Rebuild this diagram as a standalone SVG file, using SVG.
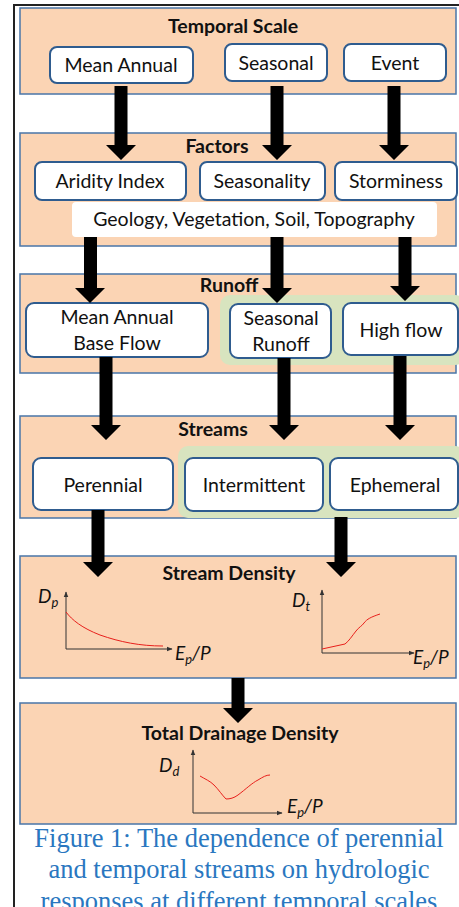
<svg xmlns="http://www.w3.org/2000/svg" width="459" height="907" viewBox="0 0 459 907">
<style>
.panel{fill:#FBD4B4;stroke:#4A76A8;stroke-width:1.5}
.green{fill:#D8E4BF}
.box{fill:#fff;stroke:#2F5C8F;stroke-width:2}
.title{font-family:Lato,"Liberation Sans",sans-serif;font-weight:bold;font-size:19.5px;fill:#111;text-anchor:middle}
.lbl{font-family:Lato,"Liberation Sans",sans-serif;font-size:19.5px;fill:#111;text-anchor:middle}
.ax{font-family:Lato,"Liberation Sans",sans-serif;font-style:italic;font-size:19px;fill:#111}
.sub{font-size:13px}
.axis{fill:none;stroke:#333;stroke-width:1}
.curve{fill:none;stroke:#E8201C;stroke-width:1}
.arrow{fill:#000}
.cap{font-family:"Liberation Serif",serif;font-size:26.5px;fill:#2A77C0;text-anchor:middle}
</style>
<defs>
<marker id="ah" viewBox="0 0 10 10" refX="9" refY="5" markerWidth="6" markerHeight="6" orient="auto"><path d="M0,1 L10,5 L0,9 Z" fill="#333"/></marker>
</defs>
<rect x="0" y="0" width="459" height="907" fill="#fff"/>
<rect x="14" y="5" width="520" height="1000" fill="none" stroke="#222" stroke-width="2"/>

<g id="temporal-scale">
<rect class="panel" x="20" y="8" width="436" height="86"/>
<text class="title" x="233" y="33">Temporal Scale</text>
</g>
<g id="mean-annual"><rect class="box" x="50" y="47" width="143" height="36" rx="7"/><text class="lbl" x="121" y="72">Mean Annual</text></g>
<g id="seasonal"><rect class="box" x="225" y="44" width="102" height="37" rx="7"/><text class="lbl" x="276" y="70">Seasonal</text></g>
<g id="event"><rect class="box" x="344" y="44" width="102" height="37" rx="7"/><text class="lbl" x="395" y="70">Event</text></g>

<g id="factors">
<rect class="panel" x="20" y="133" width="436" height="113"/>
<text class="title" x="217" y="153">Factors</text>
</g>
<g id="aridity-index"><rect class="box" x="35" y="162" width="151" height="38" rx="7"/><text class="lbl" x="110" y="188">Aridity Index</text></g>
<g id="seasonality"><rect class="box" x="200" y="162" width="125" height="38" rx="7"/><text class="lbl" x="262" y="188">Seasonality</text></g>
<g id="storminess"><rect class="box" x="335" y="162" width="122" height="38" rx="7"/><text class="lbl" x="396" y="188">Storminess</text></g>
<g id="geology"><rect x="72" y="202" width="365" height="35" rx="4" fill="#fff"/><text class="lbl" x="254" y="226">Geology, Vegetation, Soil, Topography</text></g>

<g id="runoff">
<rect class="panel" x="20" y="274" width="436" height="99"/>
<rect class="green" x="220" y="295" width="245" height="70" rx="10"/>
<text class="title" x="229" y="292">Runoff</text>
</g>
<g id="mean-annual-base-flow"><rect class="box" x="26" y="303" width="182" height="54" rx="8"/><text class="lbl" x="117" y="324">Mean Annual</text><text class="lbl" x="117" y="350">Base Flow</text></g>
<g id="seasonal-runoff"><rect class="box" x="230" y="304" width="101" height="54" rx="8"/><text class="lbl" x="281" y="325">Seasonal</text><text class="lbl" x="281" y="351">Runoff</text></g>
<g id="high-flow"><rect class="box" x="343" y="303" width="115" height="52" rx="8"/><text class="lbl" x="401" y="337">High flow</text></g>

<g id="streams">
<rect class="panel" x="20" y="416" width="436" height="102"/>
<rect class="green" x="178" y="446" width="287" height="72" rx="10"/>
<text class="title" x="213" y="436">Streams</text>
</g>
<g id="perennial"><rect class="box" x="33" y="458" width="140" height="52" rx="8"/><text class="lbl" x="103" y="492">Perennial</text></g>
<g id="intermittent"><rect class="box" x="185" y="458" width="138" height="53" rx="8"/><text class="lbl" x="254" y="492">Intermittent</text></g>
<g id="ephemeral"><rect class="box" x="330" y="458" width="128" height="52" rx="8"/><text class="lbl" x="395" y="492">Ephemeral</text></g>

<g id="stream-density">
<rect class="panel" x="20" y="556" width="436" height="122"/>
<text class="title" x="229" y="580">Stream Density</text>
<path class="axis" d="M66,649 V592" marker-end="url(#ah)"/>
<path class="axis" d="M66,649 H172" marker-end="url(#ah)"/>
<path class="curve" d="M66,612 C72,620 82,628 100,635 C120,642 140,646 163,646"/>
<text class="ax" x="38" y="603">D<tspan class="sub" dy="4">p</tspan></text>
<text class="ax" x="175" y="660">E<tspan class="sub" dy="4">p</tspan><tspan dy="-4">/P</tspan></text>
<path class="axis" d="M322,653 V590" marker-end="url(#ah)"/>
<path class="axis" d="M322,653 H414" marker-end="url(#ah)"/>
<path class="curve" d="M322,649 L345,644 C349,641 352,636 356,631 C359,627 362,626 364,623 C367,619 371,617 380,614"/>
<text class="ax" x="292" y="607">D<tspan class="sub" dy="4">t</tspan></text>
<text class="ax" x="413" y="664">E<tspan class="sub" dy="4">p</tspan><tspan dy="-4">/P</tspan></text>
</g>

<g id="total-drainage-density">
<rect class="panel" x="20" y="703" width="436" height="121"/>
<text class="title" x="240" y="740">Total Drainage Density</text>
<path class="axis" d="M193,813 V750" marker-end="url(#ah)"/>
<path class="axis" d="M193,813 H282" marker-end="url(#ah)"/>
<path class="curve" d="M200,776 C205,779 210,781 214,785 C219,790 222,795 226,799 C230,799 234,798 238,795 C246,789 252,783 258,780 C263,777 266,775 270,775"/>
<text class="ax" x="159" y="772">D<tspan class="sub" dy="4">d</tspan></text>
<text class="ax" x="287" y="813">E<tspan class="sub" dy="4">p</tspan><tspan dy="-4">/P</tspan></text>
</g>

<g id="connectors">
<path class="arrow" d="M114.5,86 H127.5 V145 H136 L121,160 L106,145 H114.5 Z"/>
<path class="arrow" d="M270.5,86 H283.5 V145 H292 L277,160 L262,145 H270.5 Z"/>
<path class="arrow" d="M387.5,86 H400.5 V145 H409 L394,160 L379,145 H387.5 Z"/>
<path class="arrow" d="M84,237 H97 V288 H105 L90,303 L75,288 H84 Z"/>
<path class="arrow" d="M270.5,237 H283.5 V288 H292 L277,303 L262,288 H270.5 Z"/>
<path class="arrow" d="M398.5,237 H411.5 V286 H420 L405,301 L390,286 H398.5 Z"/>
<path class="arrow" d="M99.5,357 H112.5 V425 H121 L106,440 L91,425 H99.5 Z"/>
<path class="arrow" d="M277.5,358 H290.5 V425 H299 L284,440 L269,425 H277.5 Z"/>
<path class="arrow" d="M393.5,356 H406.5 V425 H415 L400,440 L385,425 H393.5 Z"/>
<path class="arrow" d="M91.5,510 H104.5 V562 H113 L98,577 L83,562 H91.5 Z"/>
<path class="arrow" d="M334.5,517 H347.5 V562 H356 L341,577 L326,562 H334.5 Z"/>
<path class="arrow" d="M231.5,678 H244.5 V708 H253 L238,723 L223,708 H231.5 Z"/>
</g>

<g id="caption">
<text class="cap" x="239" y="847">Figure 1: The dependence of perennial</text>
<text class="cap" x="239" y="878">and temporal streams on hydrologic</text>
<text class="cap" x="239" y="910">responses at different temporal scales</text>
</g>
</svg>
